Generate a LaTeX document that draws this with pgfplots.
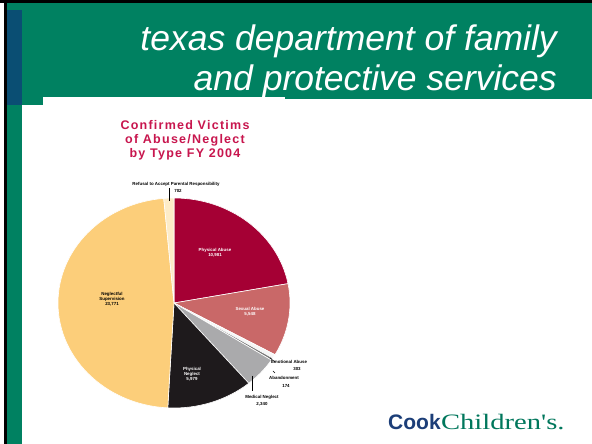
\documentclass[border=0pt]{standalone}
\usepackage{pgfplots}
\pgfplotsset{compat=1.18}
\usepackage{pgfplotstable}
\usepgflibrary{fpu}
\usepackage{fontspec}
\setmainfont{Liberation Sans}
\newfontfamily\seriffont{Liberation Serif}
\definecolor{hdrgreen}{RGB}{0,129,97}
\definecolor{hdrblue}{RGB}{10,78,115}
\definecolor{titlered}{RGB}{200,22,78}
\definecolor{pa}{RGB}{165,0,52}
\definecolor{sa}{RGB}{201,104,104}
\definecolor{emo}{RGB}{246,246,246}
\definecolor{aban}{RGB}{120,120,120}
\definecolor{mn}{RGB}{170,170,172}
\definecolor{pn}{RGB}{30,26,28}
\definecolor{ns}{RGB}{252,206,122}
\definecolor{refu}{RGB}{253,236,200}
\definecolor{logoblue}{RGB}{28,62,120}
\definecolor{logogreen}{RGB}{0,119,92}

\pgfplotstableread[col sep=semicolon]{
name;value;color
Physical Abuse;10981;pa
Sexual Abuse;5548;sa
Emotional Abuse;303;emo
Abandonment;174;aban
Medical Neglect;2340;mn
Physical Neglect;5979;pn
Neglectful Supervision;23771;ns
Refusal to Accept Parental Responsibility;702;refu
}\pietable

\newcommand\fpuon{\pgfkeys{/pgf/fpu=true,/pgf/fpu/output format=fixed}}
\newcommand\fpuoff{\pgfkeys{/pgf/fpu=false}}

\begin{document}
\begin{tikzpicture}[x=1pt,y=1pt]
\useasboundingbox (0,0) rectangle (592,444);
\fill[white] (0,0) rectangle (592,444);
% slide frame
\fill[black] (0,441) rectangle (592,444);
\fill[black] (4,0) rectangle (7,444);
\fill[hdrgreen] (7,345) rectangle (592,441);
\fill[hdrgreen] (7,0) rectangle (22,345);
\fill[hdrgreen] (22,339) rectangle (43,345);
\fill[hdrblue] (7,339) rectangle (22,434);
\fill[white] (43,343) rectangle (285,347);
% header title
\node[anchor=base east, white, font=\fontsize{35.5}{40}\selectfont\itshape, inner sep=0pt] at (557,393) {texas department of family};
\node[anchor=base east, white, font=\fontsize{35.5}{40}\selectfont\itshape, inner sep=0pt] at (557,353) {and protective services};
% chart title
\node[titlered, font=\fontsize{12.5}{14}\selectfont\bfseries\addfontfeatures{LetterSpace=10}, align=center, inner sep=0pt] at (185,304) {Confirmed Victims\\of Abuse/Neglect\\by Type FY 2004};

\begin{axis}[at={(174pt,141pt)}, anchor=center, scale only axis,
  width=232pt, height=210pt, xmin=-1, xmax=1, ymin=-1, ymax=1,
  hide axis, clip=false]
\pgfplotsextra{
  \pgfplotstablegetrowsof{\pietable}\pgfmathtruncatemacro\nlast{\pgfplotsretval-1}
  \gdef\pietot{0}
  \pgfplotsforeachungrouped \i in {0,...,\nlast}{
    \pgfplotstablegetelem{\i}{value}\of\pietable
    \fpuon\pgfmathparse{\pietot+\pgfplotsretval/1000}\fpuoff
    \xdef\pietot{\pgfmathresult}
  }
  \def\ang{90}
  \pgfplotsforeachungrouped \i in {0,...,\nlast}{
    \pgfplotstablegetelem{\i}{value}\of\pietable
    \fpuon\pgfmathparse{\ang-(\pgfplotsretval/1000)/\pietot*360}\fpuoff
    \xdef\angb{\pgfmathresult}
    \pgfplotstablegetelem{\i}{color}\of\pietable
    \edef\slicecol{\pgfplotsretval}
    \fill[fill=\slicecol, draw=white, line width=0.6pt] (axis cs:0,0) -- +(\ang:116pt and 105pt)
      arc[start angle=\ang, end angle=\angb, x radius=116pt, y radius=105pt] -- cycle;
    \global\let\ang\angb
  }
}
\end{axis}

% slice labels
\tikzset{lbl/.style={font=\fontsize{4.4}{5.2}\selectfont\bfseries, inner sep=0pt, align=center}}
\node[lbl] at (176,260) {Refusal to Accept Parental Responsibility};
\node[lbl] at (178,253) {702};
\draw[black, line width=0.6pt] (169,256) -- (169,243);
\node[lbl, white] at (215,191) {Physical Abuse\\10,981};
\node[lbl, white] at (250,132) {Sexual Abuse\\5,548};
\node[lbl] at (112,145) {Neglectful\\Supervision\\23,771};
\node[lbl, white] at (192,70) {Physical\\Neglect\\5,979};
\node[lbl] at (289,82) {Emotional Abuse};
\node[lbl] at (297,75) {303};
\draw[black, line width=0.4pt] (270,86) -- (275,82);
\node[lbl] at (284,66) {Abandonment};
\node[lbl] at (286,58) {174};
\draw[black, line width=0.4pt] (273,73) -- (275,71);
\node[lbl] at (262,47) {Medical Neglect};
\node[lbl] at (262,40) {2,340};
\draw[black, line width=0.6pt] (252,68) -- (252,53);

% logo
\node[anchor=base west, inner sep=0pt, logoblue, font=\fontsize{21}{24}\selectfont\bfseries] (cook) at (388,14) {Cook};
\node[anchor=base west, inner sep=0pt, logogreen, font=\fontsize{22}{24}\selectfont\seriffont] at (cook.base east) {\scalebox{1.3}[1]{Children's.}};
\end{tikzpicture}
\end{document}
